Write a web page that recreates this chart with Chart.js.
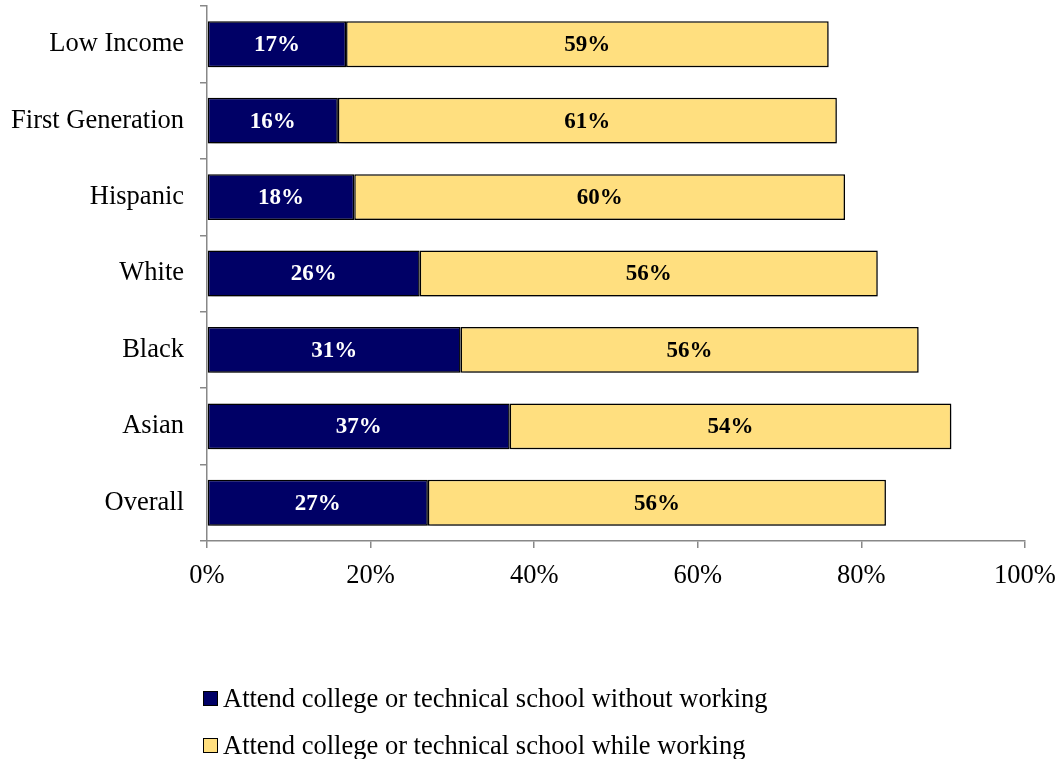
<!DOCTYPE html>
<html>
<head>
<meta charset="utf-8">
<script src="https://cdn.jsdelivr.net/npm/chart.js@4"></script>
<style>
  html, body { margin: 0; padding: 0; background: #fff; }
  #wrap { position: relative; width: 1061px; height: 759px; }
  #chart { position: absolute; left: 0; top: 0; }
  #legend {
    position: absolute; left: 203px; top: 675px;
    font-family: 'Liberation Serif', 'Times New Roman', serif;
    font-size: 26.5px; color: #000;
  }
  #legend .item { height: 47px; display: flex; align-items: center; }
  #legend .box { width: 13px; height: 13px; border: 1px solid #000; margin-right: 5px; }
</style>
</head>
<body>
<div id="wrap">
  <canvas id="chart" width="1061" height="759"></canvas>
  <div id="legend"></div>
</div>
<script>
const groups = ['Low Income', 'First Generation', 'Hispanic', 'White', 'Black', 'Asian', 'Overall'];
const notWorking = [17, 16, 18, 26, 31, 37, 27];
const whileWorking = [59, 61, 60, 56, 56, 54, 56];
const seriesNames = [
    'Attend college or technical school without working',
    'Attend college or technical school while working'
];
const xTicks = [0, 20, 40, 60, 80, 100];

const serif = "'Liberation Serif', 'Times New Roman', serif";
const navy = '#000066';
const gold = '#FFDF7F';
const axisGray = '#888888';

// soft drop shadow under the bars
const barShadow = {
    id: 'barShadow',
    beforeDatasetsDraw(chart) {
        const ctx = chart.ctx;
        ctx.save();
        ctx.shadowColor = 'rgba(0,0,0,0.35)';
        ctx.shadowBlur = 6;
        ctx.shadowOffsetX = 2;
        ctx.shadowOffsetY = 3;
    },
    afterDatasetsDraw(chart) {
        chart.ctx.restore();
    }
};

// percentage written in the middle of each segment
const segmentLabels = {
    id: 'segmentLabels',
    afterDatasetsDraw(chart) {
        const ctx = chart.ctx;
        ctx.save();
        ctx.font = 'bold 23px ' + serif;
        ctx.textAlign = 'center';
        ctx.textBaseline = 'middle';
        chart.data.datasets.forEach((ds, i) => {
            ctx.fillStyle = i === 0 ? '#ffffff' : '#000000';
            chart.getDatasetMeta(i).data.forEach((bar, j) => {
                const p = bar.getProps(['x', 'y', 'base']);
                ctx.fillText(ds.data[j] + '%', (p.x + p.base) / 2, p.y + 1);
            });
        });
        ctx.restore();
    }
};

const chart = new Chart(document.getElementById('chart'), {
    type: 'bar',
    data: {
        labels: groups,
        datasets: [{
            label: seriesNames[0],
            data: notWorking,
            backgroundColor: navy,
            borderColor: '#000',
            borderWidth: 1.5,
            borderSkipped: false
        }, {
            label: seriesNames[1],
            data: whileWorking,
            backgroundColor: gold,
            borderColor: '#000',
            borderWidth: 1.5,
            borderSkipped: false
        }]
    },
    options: {
        indexAxis: 'y',
        responsive: false,
        animation: false,
        layout: { padding: { left: 0, top: 6, right: 36, bottom: 170 } },
        datasets: { bar: { barPercentage: 0.6, categoryPercentage: 1 } },
        plugins: {
            legend: { display: false },
            tooltip: { enabled: false }
        },
        scales: {
            x: {
                stacked: true,
                min: 0,
                max: 100,
                afterBuildTicks(scale) {
                    scale.ticks = xTicks.map(v => ({ value: v }));
                },
                afterFit(scale) {
                    scale.height = 48;
                    scale.paddingLeft = 0;
                    scale.paddingRight = 0;
                },
                ticks: {
                    callback: v => v + '%',
                    color: '#000',
                    padding: 12,
                    maxRotation: 0,
                    font: { family: serif, size: 26.5 }
                },
                grid: { drawOnChartArea: false, tickLength: 7, color: axisGray, lineWidth: 1.5 },
                border: { color: axisGray, width: 1.5 }
            },
            y: {
                stacked: true,
                afterFit(scale) {
                    scale.width = 207;
                    scale.paddingTop = 0;
                    scale.paddingBottom = 0;
                },
                ticks: {
                    color: '#000',
                    padding: 16,
                    font: { family: serif, size: 26.5 }
                },
                grid: { drawOnChartArea: false, tickLength: 7, color: axisGray, lineWidth: 1.5, offset: true },
                border: { color: axisGray, width: 1.5 }
            }
        }
    },
    plugins: [barShadow, segmentLabels]
});

// legend rows, one per series
const legend = document.getElementById('legend');
chart.data.datasets.forEach(ds => {
    const row = document.createElement('div');
    row.className = 'item';
    const box = document.createElement('span');
    box.className = 'box';
    box.style.background = ds.backgroundColor;
    const text = document.createElement('span');
    text.textContent = ds.label;
    row.appendChild(box);
    row.appendChild(text);
    legend.appendChild(row);
});
</script>
</body>
</html>
